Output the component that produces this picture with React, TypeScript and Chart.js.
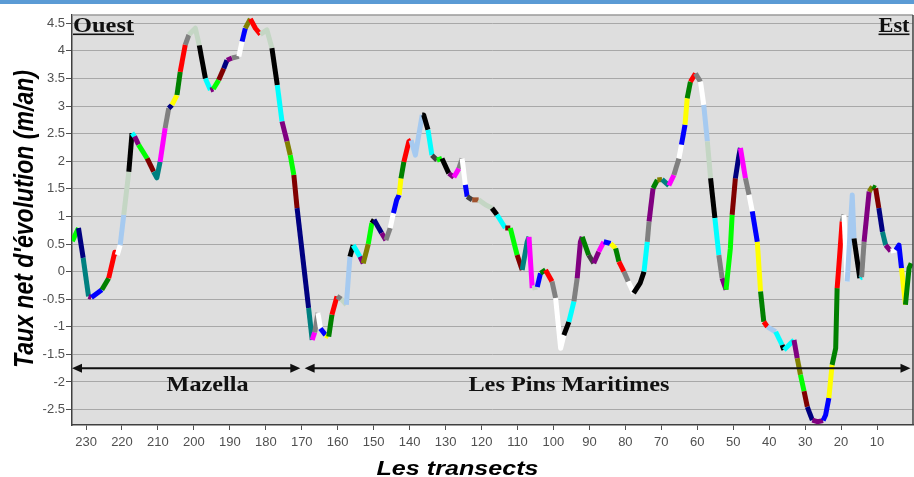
import React, { useEffect, useRef } from 'react';
import { Chart, registerables } from 'chart.js';

Chart.register(...registerables);

// ---- data ----
const transects = [233.8,232.1,230.8,229.3,228.5,225.6,223.7,222.0,221.3,220.5,219.5,218.1,217.2,216.5,215.4,213.0,211.2,210.3,209.4,208.0,207.0,206.1,204.7,203.8,202.4,201.4,199.6,198.5,196.8,195.4,194.6,193.1,191.7,190.8,189.4,187.5,186.6,185.7,184.3,182.9,181.5,179.7,178.3,176.8,175.5,174.1,173.2,172.2,171.3,168.1,167.1,166.4,165.5,164.8,163.4,162.5,161.6,160.2,159.0,157.6,156.6,155.7,153.8,152.9,151.5,150.5,149.9,147.8,146.6,145.4,144.5,143.6,142.9,142.4,141.6,140.2,139.6,138.4,136.5,136.1,134.9,133.8,132.4,131.0,129.1,127.7,126.3,125.4,124.5,124.0,122.6,120.8,118.9,117.1,115.7,113.4,112.0,110.1,108.7,107.3,106.8,105.9,104.5,103.6,102.2,100.4,99.4,98.0,97.1,95.7,94.3,93.4,92.5,92.0,90.2,88.8,87.4,86.0,84.1,82.7,81.8,80.4,79.2,77.7,75.9,74.8,73.9,73.4,72.3,71.1,69.8,67.9,66.5,65.1,64.4,63.4,62.8,61.9,60.5,59.1,58.2,57.2,56.3,55.1,54.0,53.1,52.0,50.8,50.3,49.4,48.4,48.0,46.6,45.6,44.7,43.3,42.4,41.5,40.5,38.2,36.4,35.9,33.1,32.2,31.3,30.3,29.4,28.0,26.6,25.0,24.3,23.4,22.5,21.5,21.1,20.6,19.7,19.2,18.3,16.9,16.4,14.8,14.3,13.6,12.2,11.3,10.4,9.5,8.5,7.6,6.2,4.8,3.9,3.2,2.1,1.1,0.5];

const values = [0.55,0.79,0.25,-0.45,-0.47,-0.33,-0.12,0.35,0.30,0.48,1.03,1.81,2.51,2.45,2.30,2.05,1.81,1.70,1.99,2.60,2.96,3.02,3.20,3.62,4.11,4.29,4.41,4.10,3.50,3.29,3.31,3.47,3.68,3.83,3.87,3.90,4.17,4.41,4.58,4.41,4.30,4.38,4.05,3.38,2.72,2.36,2.11,1.75,1.15,-0.66,-1.24,-1.10,-0.75,-1.03,-1.15,-1.18,-0.78,-0.45,-0.50,-0.60,0.27,0.48,0.27,0.15,0.50,0.88,0.94,0.70,0.57,0.79,1.06,1.30,1.39,1.69,1.99,2.36,2.38,2.11,2.84,2.84,2.57,2.11,2.02,2.05,1.78,1.71,1.87,2.05,1.57,1.36,1.30,1.30,1.21,1.15,1.03,0.79,0.79,0.30,0.03,0.54,0.63,-0.30,-0.28,-0.03,0.03,-0.18,-0.48,-1.39,-1.15,-0.91,-0.54,-0.12,0.54,0.63,0.30,0.15,0.36,0.54,0.51,0.42,0.18,0.00,-0.18,-0.39,-0.21,0.00,0.54,0.91,1.51,1.66,1.67,1.56,1.75,2.05,2.30,2.66,3.14,3.44,3.59,3.44,3.02,2.36,1.69,0.97,0.30,-0.12,-0.33,0.42,1.03,1.69,2.11,2.24,1.69,1.39,1.09,0.54,-0.36,-0.91,-1.00,-1.09,-1.33,-1.42,-1.24,-1.57,-1.87,-2.17,-2.45,-2.69,-2.72,-2.70,-2.60,-2.29,-1.69,-1.39,-0.30,0.12,0.91,1.03,-0.18,1.39,0.60,-0.12,-0.10,0.54,1.45,1.54,1.51,1.15,0.72,0.48,0.37,0.39,0.48,0.06,-0.60,0.06,0.15];

// colour of the segment that arrives at each point (first entry unused)
const segColors = ['none','lime','navy','teal','purple','blue','green','red','red','white','lightblue','pale','black','cyan','purple','lime','maroon','teal','teal','magenta','gray','navy','yellow','green','red','gray','pale','pale','black','cyan','purple','lime','maroon','navy','purple','gray','white','blue','olive','red','red','pale','pale','black','cyan','purple','olive','lime','maroon','navy','teal','magenta','gray','white','blue','yellow','green','red','gray','pale','lightblue','black','cyan','purple','olive','lime','black','navy','purple','gray','white','blue','blue','yellow','green','red','red','lightblue','lightblue','black','black','cyan','darkgray','lime','black','purple','magenta','gray','white','blue','darkgray','brown','pale','pale','black','cyan','maroon','lime','maroon','teal','teal','magenta','pale','blue','green','red','gray','white','white','black','cyan','gray','purple','purple','green','darkgray','purple','magenta','blue','yellow','green','red','gray','white','black','black','cyan','gray','purple','green','olive','teal','magenta','gray','white','blue','yellow','green','red','gray','white','lightblue','pale','black','cyan','gray','purple','lime','lime','maroon','navy','navy','magenta','gray','white','blue','yellow','green','red','lightblue','cyan','black','cyan','purple','olive','lime','maroon','navy','purple','purple','blue','blue','yellow','green','green','red','red','gray','white','lightblue','lightblue','black','cyan','gray','purple','olive','green','maroon','navy','teal','purple','white','blue','blue','yellow','green','green'];

const yTicks = [-2.5,-2,-1.5,-1,-0.5,0,0.5,1,1.5,2,2.5,3,3.5,4,4.5];
const xTicks = [230,220,210,200,190,180,170,160,150,140,130,120,110,100,90,80,70,60,50,40,30,20,10];

const sectionNames = ['Mazella', 'Les Pins Maritimes'];
const sectionFrom = [233.9, 169.2];
const sectionTo = [170.4, 0.7];
const sectionLabelAt = [196.2, 95.7];
const sectionArrowValue = -1.75;
const sectionLabelValue = -2.02;

const yTitle = "Taux net d'évolution (m/an)";
const xTitle = 'Les transects';
const westLabel = 'Ouest';
const eastLabel = 'Est';

const palette: Record<string, string> = {
  none: 'rgba(0,0,0,0)',
  lime: '#00ff00', navy: '#000080', teal: '#008080', purple: '#800080', blue: '#0000ff',
  green: '#008000', red: '#ff0000', white: '#ffffff', lightblue: '#a6caf0', pale: '#c4d6c4',
  black: '#000000', cyan: '#00ffff', maroon: '#800000', magenta: '#ff00ff', gray: '#808080',
  yellow: '#ffff00', olive: '#808000', darkgray: '#404040', brown: '#a0522d',
};

function drawFitted(ctx: CanvasRenderingContext2D, text: string, cx: number, by: number, font: string, width: number) {
  ctx.save();
  ctx.font = font;
  const w = ctx.measureText(text).width;
  ctx.translate(cx, by);
  ctx.scale(width / w, 1);
  ctx.textAlign = 'center';
  ctx.textBaseline = 'alphabetic';
  ctx.fillText(text, 0, 0);
  ctx.restore();
}

function arrowHead(ctx: CanvasRenderingContext2D, x: number, y: number, dir: number) {
  ctx.beginPath();
  ctx.moveTo(x, y);
  ctx.lineTo(x - dir * 10, y - 4.5);
  ctx.lineTo(x - dir * 10, y + 4.5);
  ctx.closePath();
  ctx.fill();
}

export default function App() {
  const ref = useRef<HTMLCanvasElement>(null);
  useEffect(() => {
    const canvas = ref.current!;
    const decor = {
      id: 'decor',
      beforeDraw(chart: any) {
        const { ctx, chartArea: a } = chart;
        ctx.save();
        ctx.fillStyle = '#ffffff';
        ctx.fillRect(0, 0, chart.width, chart.height);
        ctx.fillStyle = '#5b9bd5';
        ctx.fillRect(0, 0, chart.width, 4);
        ctx.fillStyle = '#dedede';
        ctx.fillRect(a.left, a.top, a.right - a.left, a.bottom - a.top);
        ctx.restore();
      },
      afterDatasetsDraw(chart: any) {
        const { ctx, chartArea: a, scales } = chart;
        const xs = scales.x, ys = scales.y;
        ctx.save();
        // borders
        ctx.strokeStyle = '#9a9a9a';
        ctx.lineWidth = 1.5;
        ctx.beginPath(); ctx.moveTo(a.left, a.top); ctx.lineTo(a.right, a.top); ctx.stroke();
        ctx.strokeStyle = '#404040';
        ctx.beginPath(); ctx.moveTo(a.right, a.top); ctx.lineTo(a.right, a.bottom); ctx.stroke();
        // section arrows
        ctx.strokeStyle = '#111';
        ctx.fillStyle = '#111';
        ctx.lineWidth = 2;
        const ay = ys.getPixelForValue(sectionArrowValue);
        const ly = ys.getPixelForValue(sectionLabelValue) + 8;
        for (let i = 0; i < sectionNames.length; i++) {
          const x1 = xs.getPixelForValue(sectionFrom[i]);
          const x2 = xs.getPixelForValue(sectionTo[i]);
          ctx.beginPath(); ctx.moveTo(x1 + 4, ay); ctx.lineTo(x2 - 4, ay); ctx.stroke();
          arrowHead(ctx, x1, ay, -1);
          arrowHead(ctx, x2, ay, 1);
          const w = i === 0 ? 82 : 201;
          drawFitted(ctx, sectionNames[i], xs.getPixelForValue(sectionLabelAt[i]), ly, 'bold 22px "Liberation Serif"', w);
        }
        // Ouest / Est
        ctx.fillStyle = '#111';
        drawFitted(ctx, westLabel, 73 + 30.5, 32, 'bold 20px "Liberation Serif"', 61);
        ctx.fillRect(73, 33.5, 61, 1.6);
        drawFitted(ctx, eastLabel, 878.5 + 15.5, 32, 'bold 20px "Liberation Serif"', 31);
        ctx.fillRect(878.5, 33.5, 31, 1.6);
        // axis titles
        ctx.fillStyle = '#000';
        drawFitted(ctx, xTitle, 457.5, 475, 'bold italic 21px "Liberation Sans"', 162);
        ctx.save();
        ctx.translate(33, 219);
        ctx.scale(1.2, 1);
        ctx.rotate(-Math.PI / 2);
        ctx.font = 'bold italic 23px "Liberation Sans"';
        const tw = ctx.measureText(yTitle).width;
        ctx.scale(298 / tw, 1);
        ctx.textAlign = 'center';
        ctx.textBaseline = 'alphabetic';
        ctx.fillText(yTitle, 0, 0);
        ctx.restore();
        ctx.restore();
      },
    };

    const data = transects.map((t, i) => ({ x: t, y: values[i] }));
    const chart = new Chart(canvas, {
      type: 'line',
      data: {
        datasets: [{
          data,
          borderWidth: 5,
          borderColor: '#000',
          pointRadius: 0,
          tension: 0,
          borderJoinStyle: 'round',
          segment: {
            borderColor: (c: any) => palette[segColors[c.p1DataIndex]] || '#000',
          },
        } as any],
      },
      options: {
        responsive: false,
        animation: false,
        devicePixelRatio: 1,
        layout: { padding: { top: 15, right: 1, left: 0, bottom: 0 } },
        plugins: { legend: { display: false }, tooltip: { enabled: false }, title: { display: false } },
        scales: {
          x: {
            type: 'linear',
            reverse: true,
            min: 0,
            max: 233.9,
            afterBuildTicks: (s: any) => { s.ticks = xTicks.map((v) => ({ value: v })); },
            afterFit: (s: any) => { s.height = 52; },
            grid: { display: true, drawOnChartArea: false, drawTicks: true, tickLength: 5, tickColor: '#505050' },
            border: { display: true, color: '#404040', width: 1.5 },
            ticks: {
              autoSkip: false,
              maxRotation: 0,
              padding: 5,
              color: '#505050',
              font: { family: '"Liberation Sans"', size: 13 },
              callback: (v: any) => String(v),
            },
          },
          y: {
            type: 'linear',
            min: -2.78,
            max: 4.65,
            afterBuildTicks: (s: any) => { s.ticks = yTicks.map((v) => ({ value: v })); },
            afterFit: (s: any) => { s.width = 72; },
            grid: { display: true, drawOnChartArea: true, drawTicks: true, tickLength: 6, color: '#a8a8a8', lineWidth: 1, tickColor: '#505050' },
            border: { display: true, color: '#404040', width: 1.5 },
            ticks: {
              padding: 1,
              color: '#505050',
              font: { family: '"Liberation Sans"', size: 13 },
              callback: (v: any) => String(v),
            },
          },
        },
      },
      plugins: [decor],
    } as any);
    return () => chart.destroy();
  }, []);

  return (
    <div style={{ position: 'fixed', left: 0, top: 0, width: 914, height: 477, background: '#fff' }}>
      <canvas ref={ref} width={914} height={477} style={{ display: 'block' }} />
    </div>
  );
}
